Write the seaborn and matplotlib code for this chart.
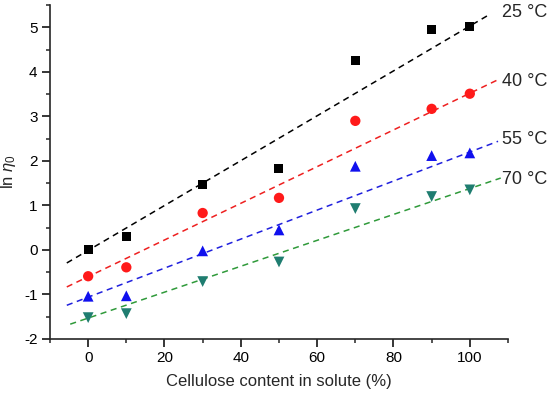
import numpy as np
import pandas as pd
import matplotlib
matplotlib.use('Agg')
import matplotlib.pyplot as plt
import seaborn as sns
from matplotlib.ticker import MultipleLocator

# ----- DATA ---------------------------------------|
cellulose = [0, 10, 30, 50, 70, 90, 100]
temps = ['25 °C', '40 °C', '55 °C', '70 °C']
ln_eta_25 = [0.00, 0.30, 1.47, 1.84, 4.25, 4.95, 5.01]
ln_eta_40 = [-0.59, -0.39, 0.83, 1.17, 2.90, 3.17, 3.51]
ln_eta_55 = [-1.04, -1.03, -0.02, 0.45, 1.88, 2.12, 2.18]
ln_eta_70 = [-1.52, -1.43, -0.71, -0.27, 0.93, 1.20, 1.35]

# linear fits as drawn in the figure (slope, intercept, x range)
fit_slope = [0.0504, 0.0412, 0.0326, 0.0291]
fit_intercept = [-0.01, -0.60, -1.06, -1.53]
fit_xstart = [-5.6, -5.6, -5.6, -4.7]
fit_xend = [105.1, 107.4, 107.4, 108.1]
label_y = [5.34, 3.79, 2.49, 1.58]

marker_colors = ['#000000', '#ff1a1a', '#1010ee', '#1f7d70']
line_colors = ['#000000', '#ee2020', '#2020dd', '#2f9a3a']
markers = ['s', 'o', '^', 'v']
sizes = [42, 55, 60, 60]

sns.set_style('ticks')
plt.rcParams['font.family'] = ['Liberation Sans', 'DejaVu Sans']
plt.rcParams['mathtext.fontset'] = 'custom'
plt.rcParams['mathtext.it'] = 'Liberation Sans:italic'
plt.rcParams['mathtext.rm'] = 'Liberation Sans'
plt.rcParams['axes.unicode_minus'] = False

all_y = [ln_eta_25, ln_eta_40, ln_eta_55, ln_eta_70]
df = pd.DataFrame({
    'x': cellulose * 4,
    'y': sum(all_y, []),
    'T': [t for t in temps for _ in cellulose],
})

fit_rows = []
for t, k, b, x0, x1 in zip(temps, fit_slope, fit_intercept, fit_xstart, fit_xend):
    for xx in (x0, x1):
        fit_rows.append({'x': xx, 'y': k * xx + b, 'T': t})
fit_df = pd.DataFrame(fit_rows)

fig = plt.figure(figsize=(5.5, 3.94), dpi=100)
ax = fig.add_axes([0.0909, 0.1396, 0.8327, 0.8474])

sns.lineplot(data=fit_df, x='x', y='y', hue='T', palette=line_colors,
             linestyle=(0, (4, 3)), linewidth=1.1, legend=False, ax=ax,
             zorder=2)
for i, t in enumerate(temps):
    sub = df[df['T'] == t]
    sns.scatterplot(data=sub, x='x', y='y', marker=markers[i], s=sizes[i],
                    color=marker_colors[i], edgecolor='none', legend=False,
                    ax=ax, zorder=3)
    ax.text(108.5, label_y[i], t, fontsize=13, va='center', ha='left',
            clip_on=False)

ax.set_xlim(-10, 110)
ax.set_ylim(-2, 5.5)
ax.xaxis.set_major_locator(MultipleLocator(20))
ax.xaxis.set_minor_locator(MultipleLocator(10))
ax.yaxis.set_major_locator(MultipleLocator(1))
ax.yaxis.set_minor_locator(MultipleLocator(0.5))
ax.tick_params(which='major', direction='out', length=5.5, width=1.1,
               labelsize=11, colors='black')
ax.tick_params(which='minor', direction='out', length=3, width=1.1)
for s in ['left', 'bottom']:
    ax.spines[s].set_linewidth(1.2)
sns.despine(ax=ax)

ax.set_xlabel('Cellulose content in solute (%)', fontsize=12, labelpad=6)
ax.set_ylabel(r'ln $\eta_0$', fontsize=12, labelpad=4)

fig.savefig('out.png', dpi=100)
